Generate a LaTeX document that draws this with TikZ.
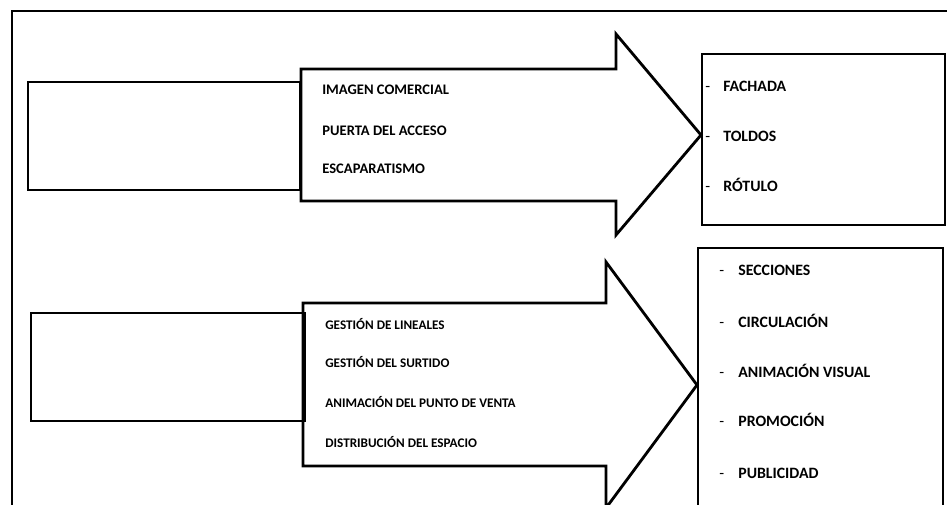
\documentclass[tikz,border=0pt]{standalone}
\usepackage{fontspec}
\setmainfont{Carlito}
\usetikzlibrary{positioning}

\begin{document}
\begin{tikzpicture}[x=0.02cm, y=-0.02cm,
    frame/.style={draw, line width=1.6pt, line join=miter},
    item/.style={anchor=west, inner sep=0pt, text height=1.6ex, text depth=0.3ex, font=\bfseries\fontsize{8.3}{10}\selectfont},
    smallitem/.style={item, font=\bfseries\fontsize{7.5}{9}\selectfont},
    bigitem/.style={item, font=\bfseries\fontsize{9}{11}\selectfont},
    hyphen/.style={item, font=\fontsize{9}{11}\selectfont}
]
    \useasboundingbox (0,0) rectangle (947,504);
    \clip (0,0) rectangle (947,504);

    % outer frame
    \draw[frame] (12,11) rectangle (970,530);

    % upper block
    \coordinate (ia) at (28,82);
    \coordinate (ib) at (300,190);
    \draw[frame] (ia) rectangle (ib);
    \draw[frame] (301,69) -- (616,69) -- (616,34) -- (701,135) -- (616,235) -- (616,201) -- (301,201) -- cycle;
    \coordinate (ra) at (702,54);
    \coordinate (rb) at (945,225);
    \draw[frame] (ra) rectangle (rb);

    \node[item] (imagen) at (322,89) {IMAGEN COMERCIAL};
    \node[item] (puerta) at (322,130) {PUERTA DEL ACCESO};
    \node[item] (escap) at (322,168) {ESCAPARATISMO};

    \node[hyphen] (h1) at (705,86) {-};
    \node[hyphen] (h2) at (705,136) {-};
    \node[hyphen] (h3) at (705,186) {-};
    \node[bigitem] (fachada) at (723,86) {FACHADA};
    \node[bigitem] (toldos) at (723,136) {TOLDOS};
    \node[bigitem] (rotulo) at (723,186) {RÓTULO};

    % lower block
    \coordinate (ga) at (31,313);
    \coordinate (gb) at (305,421);
    \draw[frame] (ga) rectangle (gb);
    \draw[frame] (303,303) -- (606,303) -- (606,262) -- (697,385) -- (606,508) -- (606,466) -- (303,466) -- cycle;
    \coordinate (sa) at (698,248);
    \coordinate (sb) at (943,530);
    \draw[frame] (sa) rectangle (sb);

    \node[smallitem] (lineales) at (325,324) {GESTIÓN DE LINEALES};
    \node[smallitem] (surtido) at (325,362) {GESTIÓN DEL SURTIDO};
    \node[smallitem] (animacion) at (325,402) {ANIMACIÓN DEL PUNTO DE VENTA};
    \node[smallitem] (distrib) at (325,442) {DISTRIBUCIÓN DEL ESPACIO};

    \node[hyphen] (d1) at (719,270) {-};
    \node[hyphen] (d2) at (719,322) {-};
    \node[hyphen] (d3) at (719,372) {-};
    \node[hyphen] (d4) at (719,421) {-};
    \node[hyphen] (d5) at (719,473) {-};
    \node[bigitem] (secciones) at (738,270) {SECCIONES};
    \node[bigitem] (circulacion) at (738,322) {CIRCULACIÓN};
    \node[bigitem] (visual) at (738,372) {ANIMACIÓN VISUAL};
    \node[bigitem] (promocion) at (738,421) {PROMOCIÓN};
    \node[bigitem] (publicidad) at (738,473) {PUBLICIDAD};
\end{tikzpicture}
\end{document}
